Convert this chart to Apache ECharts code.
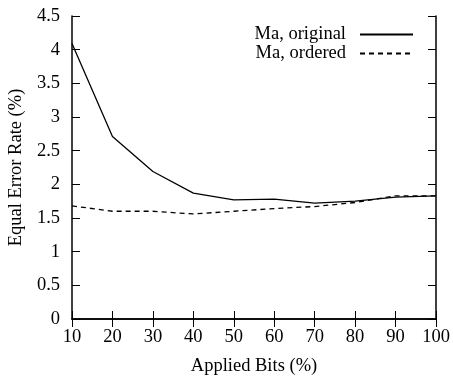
<!DOCTYPE html>
<html>
<head>
<meta charset="utf-8">
<script src="https://cdn.jsdelivr.net/npm/echarts@6/dist/echarts.min.js"></script>
<style>
  html, body { margin: 0; padding: 0; background: #fff; }
  #chart { width: 453px; height: 378px; }
</style>
</head>
<body>
<div id="chart"></div>
<script>
const bits = [10, 20, 30, 40, 50, 60, 70, 80, 90, 100]
const maOriginal = [4.09, 2.71, 2.19, 1.87, 1.77, 1.78, 1.72, 1.75, 1.81, 1.83]
const maOrdered = [1.68, 1.60, 1.60, 1.56, 1.60, 1.64, 1.67, 1.73, 1.83, 1.83]

const font = 'Liberation Serif, Times New Roman, serif'
const fs = 18.5
const axisLine = { show: true, lineStyle: { color: '#000', width: 1.5 } }
const tick = { show: true, inside: true, length: 8, lineStyle: { color: '#000', width: 1 } }

const legendBase = {
  right: 34, align: 'right',
  itemWidth: 53, itemHeight: 10, itemGap: 0,
  itemStyle: { opacity: 0 },
  textStyle: { fontFamily: font, fontSize: fs, color: '#000', padding: [0, 9, 0, 0] }
}

const chart = echarts.init(document.getElementById('chart'))
chart.setOption({
  animation: false,
  textStyle: { fontFamily: font },
  grid: { left: 72, right: 17, top: 16, bottom: 59, outerBoundsMode: 'none', containLabel: false },
  legend: [
    Object.assign({}, legendBase, { data: ['Ma, original'], top: 20 }),
    Object.assign({}, legendBase, { data: ['Ma, ordered'], top: 39 })
  ],
  xAxis: [
    {
      type: 'value', min: 10, max: 100, interval: 10,
      axisLine, axisTick: tick, splitLine: { show: false },
      axisLabel: { color: '#000', fontSize: fs, fontFamily: font, margin: 9 },
      name: 'Applied Bits (%)', nameLocation: 'middle', nameGap: 38,
      nameTextStyle: { color: '#000', fontSize: fs, fontFamily: font }
    },
    {
      type: 'value', position: 'top', min: 10, max: 100, interval: 10,
      axisLine, axisTick: tick, splitLine: { show: false }, axisLabel: { show: false }
    }
  ],
  yAxis: [
    {
      type: 'value', min: 0, max: 4.5, interval: 0.5,
      axisLine, axisTick: tick, splitLine: { show: false },
      axisLabel: { color: '#000', fontSize: fs, fontFamily: font, margin: 12 },
      name: 'Equal Error Rate (%)', nameLocation: 'middle', nameGap: 45,
      nameTextStyle: { color: '#000', fontSize: fs, fontFamily: font }
    },
    {
      type: 'value', position: 'right', min: 0, max: 4.5, interval: 0.5,
      axisLine, axisTick: tick, splitLine: { show: false }, axisLabel: { show: false }
    }
  ],
  series: [
    {
      name: 'Ma, original', type: 'line', symbol: 'none',
      data: bits.map((b, i) => [b, maOriginal[i]]),
      lineStyle: { color: '#000', width: 1.3, type: 'solid' },
      itemStyle: { color: '#000' }
    },
    {
      name: 'Ma, ordered', type: 'line', symbol: 'none',
      data: bits.map((b, i) => [b, maOrdered[i]]),
      lineStyle: { color: '#000', width: 1.3, type: [5, 4] },
      itemStyle: { color: '#000' }
    }
  ]
})
</script>
</body>
</html>
